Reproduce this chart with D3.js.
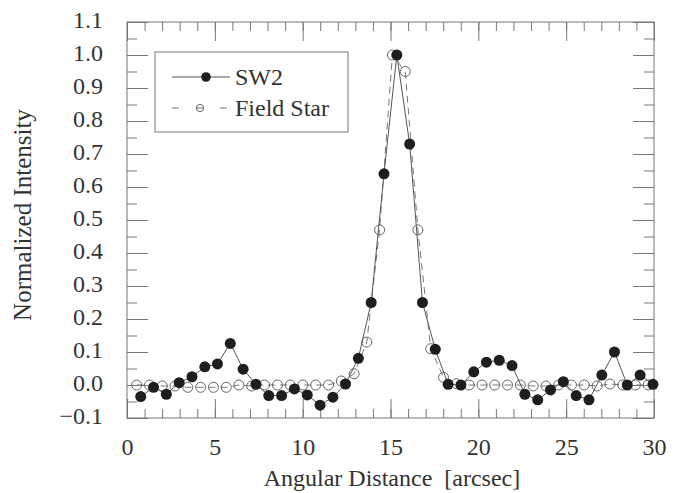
<!DOCTYPE html>
<html>
<head>
<meta charset="utf-8">
<script src="https://cdn.jsdelivr.net/npm/d3@7"></script>
<style>
  body { margin: 0; background: #fff; }
  svg text { font-family: "Liberation Serif", "Times New Roman", serif; fill: #333; }
</style>
</head>
<body>
<div id="chart"></div>
<script>
var width = 679,
    height = 493;

// SW2 (filled circles)
var sw2X = [0.78, 1.51, 2.24, 2.97, 3.70, 4.43, 5.15, 5.88, 6.61, 7.34,
            8.07, 8.80, 9.53, 10.26, 10.99, 11.72, 12.44, 13.17, 13.90, 14.63,
            15.36, 16.09, 16.82, 17.55, 18.28, 19.01, 19.74, 20.46, 21.19, 21.92,
            22.65, 23.38, 24.11, 24.84, 25.57, 26.30, 27.03, 27.75, 28.48, 29.21, 29.94];
var sw2Y = [-0.035, -0.007, -0.028, 0.007, 0.025, 0.055, 0.064, 0.126, 0.048, 0.002,
            -0.032, -0.032, -0.012, -0.030, -0.061, -0.037, 0.003, 0.081, 0.250, 0.640,
            1.000, 0.730, 0.250, 0.108, 0.002, 0.000, 0.040, 0.069, 0.075, 0.059,
            -0.028, -0.045, -0.015, 0.010, -0.032, -0.045, 0.030, 0.100, 0.000, 0.030, 0.002];

// Field star (open circles, dashed)
var starX = [0.55, 1.28, 2.01, 2.73, 3.46, 4.19, 4.92, 5.65, 6.37, 7.10,
             7.83, 8.56, 9.29, 10.01, 10.74, 11.47, 12.20, 12.93, 13.65, 14.38,
             15.11, 15.84, 16.56, 17.29, 18.02, 18.75, 19.48, 20.21, 20.93, 21.66,
             22.39, 23.12, 23.85, 24.57, 25.30, 26.03, 26.76, 27.49, 28.22, 28.94, 29.67];
var starY = [0.000, 0.000, -0.003, -0.003, -0.007, -0.007, -0.007, -0.007, 0.000, -0.003,
             0.000, 0.000, 0.000, 0.000, 0.000, 0.000, 0.012, 0.034, 0.130, 0.470,
             1.000, 0.950, 0.470, 0.110, 0.023, 0.004, 0.000, 0.000, 0.000, 0.000,
             0.000, -0.003, -0.003, 0.000, 0.000, 0.000, -0.003, 0.003, 0.000, 0.000, 0.000];

var xMajor = [0, 5, 10, 15, 20, 25, 30];
var yMajor = [-0.1, 0, 0.1, 0.2, 0.3, 0.4, 0.5, 0.6, 0.7, 0.8, 0.9, 1.0, 1.1];
var legendNames = ["SW2", "Field Star"];

var pLeft = 127, pRight = 654, pTop = 22, pBottom = 418;

var x = d3.scaleLinear().domain([0, 30]).range([pLeft, pRight]);
var y = d3.scaleLinear().domain([-0.1, 1.1]).range([pBottom, pTop]);

var svg = d3.select("#chart").append("svg")
    .attr("width", width)
    .attr("height", height);

svg.append("rect").attr("width", width).attr("height", height).attr("fill", "#fff");

var xMinor = d3.range(0, 31, 1);
var yMinor = d3.range(-0.1, 1.1001, 0.05);

function styleAxis(g) {
    g.select(".domain").remove();
    g.selectAll("line").attr("stroke", "#777");
    g.selectAll("text").style("font-size", "24px").attr("fill", "#333")
        .style("font-family", "'Liberation Serif', serif");
}

// bottom
svg.append("g").attr("transform", "translate(0," + pBottom + ")")
    .call(d3.axisBottom(x).tickValues(xMinor).tickSize(-9).tickFormat(""))
    .call(styleAxis);
svg.append("g").attr("transform", "translate(0," + pBottom + ")")
    .call(d3.axisBottom(x).tickValues(xMajor).tickSize(-19).tickPadding(20).tickFormat(d3.format("d")))
    .call(styleAxis);
// top
svg.append("g").attr("transform", "translate(0," + pTop + ")")
    .call(d3.axisTop(x).tickValues(xMinor).tickSize(-9).tickFormat(""))
    .call(styleAxis);
svg.append("g").attr("transform", "translate(0," + pTop + ")")
    .call(d3.axisTop(x).tickValues(xMajor).tickSize(-19).tickFormat(""))
    .call(styleAxis);
// left
svg.append("g").attr("transform", "translate(" + pLeft + ",0)")
    .call(d3.axisLeft(y).tickValues(yMinor).tickSize(-10).tickFormat(""))
    .call(styleAxis);
var yLab = svg.append("g").attr("transform", "translate(" + pLeft + ",0)")
    .call(d3.axisLeft(y).tickValues(yMajor).tickSize(-21).tickPadding(24).tickFormat(d3.format(".1f")))
    .call(styleAxis);
yLab.selectAll("text").attr("dy", "0.22em");
// right
svg.append("g").attr("transform", "translate(" + pRight + ",0)")
    .call(d3.axisRight(y).tickValues(yMinor).tickSize(-10).tickFormat(""))
    .call(styleAxis);
svg.append("g").attr("transform", "translate(" + pRight + ",0)")
    .call(d3.axisRight(y).tickValues(yMajor).tickSize(-21).tickFormat(""))
    .call(styleAxis);

// frame
svg.append("rect")
    .attr("x", pLeft).attr("y", pTop)
    .attr("width", pRight - pLeft).attr("height", pBottom - pTop)
    .attr("fill", "none").attr("stroke", "#777").attr("stroke-width", 1);

var line = d3.line()
    .x(function (d) { return x(d[0]); })
    .y(function (d) { return y(d[1]); });

var starData = starX.map(function (d, i) { return [d, starY[i]]; });
var sw2Data = sw2X.map(function (d, i) { return [d, sw2Y[i]]; });

// field star
svg.append("path").datum(starData)
    .attr("d", line)
    .attr("fill", "none").attr("stroke", "#777").attr("stroke-width", 1)
    .attr("stroke-dasharray", "7,5");
svg.selectAll(".star").data(starData).enter().append("circle")
    .attr("class", "star")
    .attr("cx", function (d) { return x(d[0]); })
    .attr("cy", function (d) { return y(d[1]); })
    .attr("r", 5)
    .attr("fill", "none").attr("stroke", "#666").attr("stroke-width", 1);

// SW2
svg.append("path").datum(sw2Data)
    .attr("d", line)
    .attr("fill", "none").attr("stroke", "#555").attr("stroke-width", 1);
svg.selectAll(".sw2").data(sw2Data).enter().append("circle")
    .attr("class", "sw2")
    .attr("cx", function (d) { return x(d[0]); })
    .attr("cy", function (d) { return y(d[1]); })
    .attr("r", 5.5)
    .attr("fill", "#1e1e1e");

// legend
var lg = svg.append("g");
lg.append("rect").attr("x", 155).attr("y", 52).attr("width", 193).attr("height", 80)
    .attr("fill", "#fff").attr("stroke", "#777");
lg.append("line").attr("x1", 172).attr("x2", 230).attr("y1", 77).attr("y2", 77)
    .attr("stroke", "#555");
lg.append("circle").attr("cx", 206).attr("cy", 77).attr("r", 4.8).attr("fill", "#1e1e1e");
lg.append("line").attr("x1", 172).attr("x2", 230).attr("y1", 108).attr("y2", 108)
    .attr("stroke", "#777").attr("stroke-dasharray", "7,17");
lg.append("circle").attr("cx", 200).attr("cy", 108).attr("r", 3.6)
    .attr("fill", "none").attr("stroke", "#666");
lg.selectAll("text.leg").data(legendNames).enter().append("text")
    .attr("class", "leg")
    .attr("x", 235)
    .attr("y", function (d, i) { return 85 + i * 31; })
    .style("font-size", "24px")
    .text(function (d) { return d; });

// axis titles
svg.append("text")
    .attr("x", 392).attr("y", 486)
    .style("text-anchor", "middle").style("font-size", "24px")
    .style("white-space", "pre")
    .text("Angular Distance  [arcsec]");
svg.append("text")
    .attr("transform", "translate(31,215) rotate(-90)")
    .style("text-anchor", "middle").style("font-size", "25px")
    .text("Normalized Intensity");
</script>
</body>
</html>
